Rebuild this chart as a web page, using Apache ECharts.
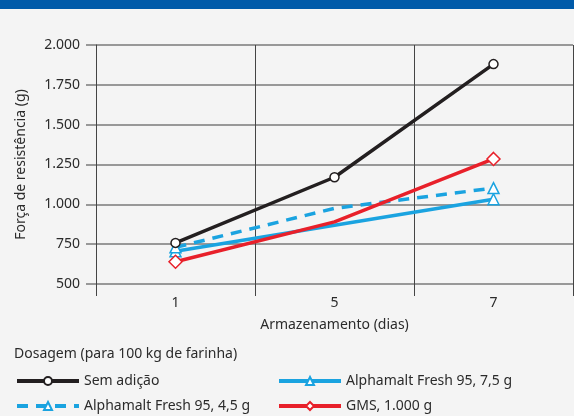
<!DOCTYPE html>
<html>
<head>
<meta charset="utf-8">
<script src="https://cdn.jsdelivr.net/npm/echarts@6/dist/echarts.min.js"></script>
<style>
  html, body { margin: 0; padding: 0; background: #f4f4f4; }
  #chart { width: 574px; height: 416px; }
</style>
</head>
<body>
<div id="chart"></div>
<script>
// storage days
const dias = ["1", "5", "7"];
// resistance force (g)
const semAdicao = [758, 1170, 1880];
const alpha75 = [705, null, 1032];
const alpha45 = [730, 975, 1102];
const gms = [640, 890, 1285];
const yTicks = { min: 500, max: 2000, step: 250 };

const chart = echarts.init(document.getElementById("chart"));
const font = "'Noto Sans', sans-serif";
const txt = "#2b2b2b";

// middle point of a few lines has no marker in the original
const noMid = (arr) => arr.map((v, i) => (i === 1 ? { value: v, symbol: "none" } : v));

// one legend per entry, placed in a 2x2 block
const legendItem = (name, left, top) => ({
  data: [name],
  left: left,
  top: top,
  padding: 0,
  itemWidth: 62,
  itemHeight: 10,
  itemGap: 7,
  lineStyle: { width: 4 },
  textStyle: { fontFamily: font, fontSize: 14, color: txt },
});

const options = {
  backgroundColor: "#f4f4f4",
  textStyle: { fontFamily: font, color: txt },
  graphic: [
    { type: "rect", left: 0, top: 0, shape: { width: 574, height: 9 }, style: { fill: "#005aa9" } },
  ],
  title: {
    text: "Dosagem (para 100 kg de farinha)",
    left: 9,
    top: 342,
    textStyle: { fontFamily: font, fontSize: 14, fontWeight: "normal", color: txt },
  },
  legend: [
    legendItem("Sem adição", 15, 374),
    legendItem("Alphamalt Fresh 95, 4,5 g", 15, 399),
    legendItem("Alphamalt Fresh 95, 7,5 g", 277, 374),
    legendItem("GMS, 1.000 g", 277, 399),
  ],
  grid: { left: 96, right: 1, top: 45, bottom: 132, containLabel: false },
  xAxis: {
    type: "category",
    data: dias,
    boundaryGap: true,
    name: "Armazenamento (dias)",
    nameLocation: "middle",
    nameGap: 34,
    nameTextStyle: { fontFamily: font, fontSize: 14, color: txt },
    axisLine: { show: false },
    axisTick: { show: true, length: 12, lineStyle: { color: "#444", width: 1 } },
    axisLabel: { margin: 12, fontFamily: font, fontSize: 14, color: txt },
    splitLine: { show: true, lineStyle: { color: "#444", width: 1 } },
  },
  yAxis: {
    type: "value",
    min: yTicks.min,
    max: yTicks.max,
    interval: yTicks.step,
    name: "Força de resistência (g)",
    nameLocation: "middle",
    nameGap: 68,
    nameTextStyle: { fontFamily: font, fontSize: 14, color: txt },
    axisLine: { show: true, lineStyle: { color: "#444", width: 1 } },
    axisTick: { show: true, length: 10, lineStyle: { color: "#7a7a7a", width: 1.5 } },
    axisLabel: {
      margin: 16,
      fontFamily: font,
      fontSize: 14,
      color: txt,
      formatter: (v) => v.toLocaleString("de-DE", { minimumFractionDigits: 0 }),
    },
    splitLine: { show: true, lineStyle: { color: "#7a7a7a", width: 1.5 } },
  },
  series: [
    {
      name: "Sem adição",
      type: "line",
      data: semAdicao,
      symbol: "circle",
      symbolSize: 9,
      lineStyle: { color: "#231f20", width: 3.5 },
      itemStyle: { color: "#fff", borderColor: "#231f20", borderWidth: 1.5 },
      z: 5,
    },
    {
      name: "Alphamalt Fresh 95, 7,5 g",
      type: "line",
      data: alpha75,
      connectNulls: true,
      symbol: "triangle",
      symbolSize: 11,
      lineStyle: { color: "#1aa3e0", width: 3.5 },
      itemStyle: { color: "#fff", borderColor: "#1aa3e0", borderWidth: 1.5 },
      z: 3,
    },
    {
      name: "Alphamalt Fresh 95, 4,5 g",
      type: "line",
      data: noMid(alpha45),
      symbol: "triangle",
      symbolSize: 11,
      lineStyle: { color: "#1aa3e0", width: 3.5, type: [11, 8] },
      itemStyle: { color: "#fff", borderColor: "#1aa3e0", borderWidth: 1.5 },
      z: 3,
    },
    {
      name: "GMS, 1.000 g",
      type: "line",
      data: noMid(gms),
      symbol: "diamond",
      symbolSize: 13,
      lineStyle: { color: "#e8202a", width: 3.5 },
      itemStyle: { color: "#fff", borderColor: "#e8202a", borderWidth: 1.5 },
      z: 4,
    },
  ],
};

chart.setOption(options);
</script>
</body>
</html>
